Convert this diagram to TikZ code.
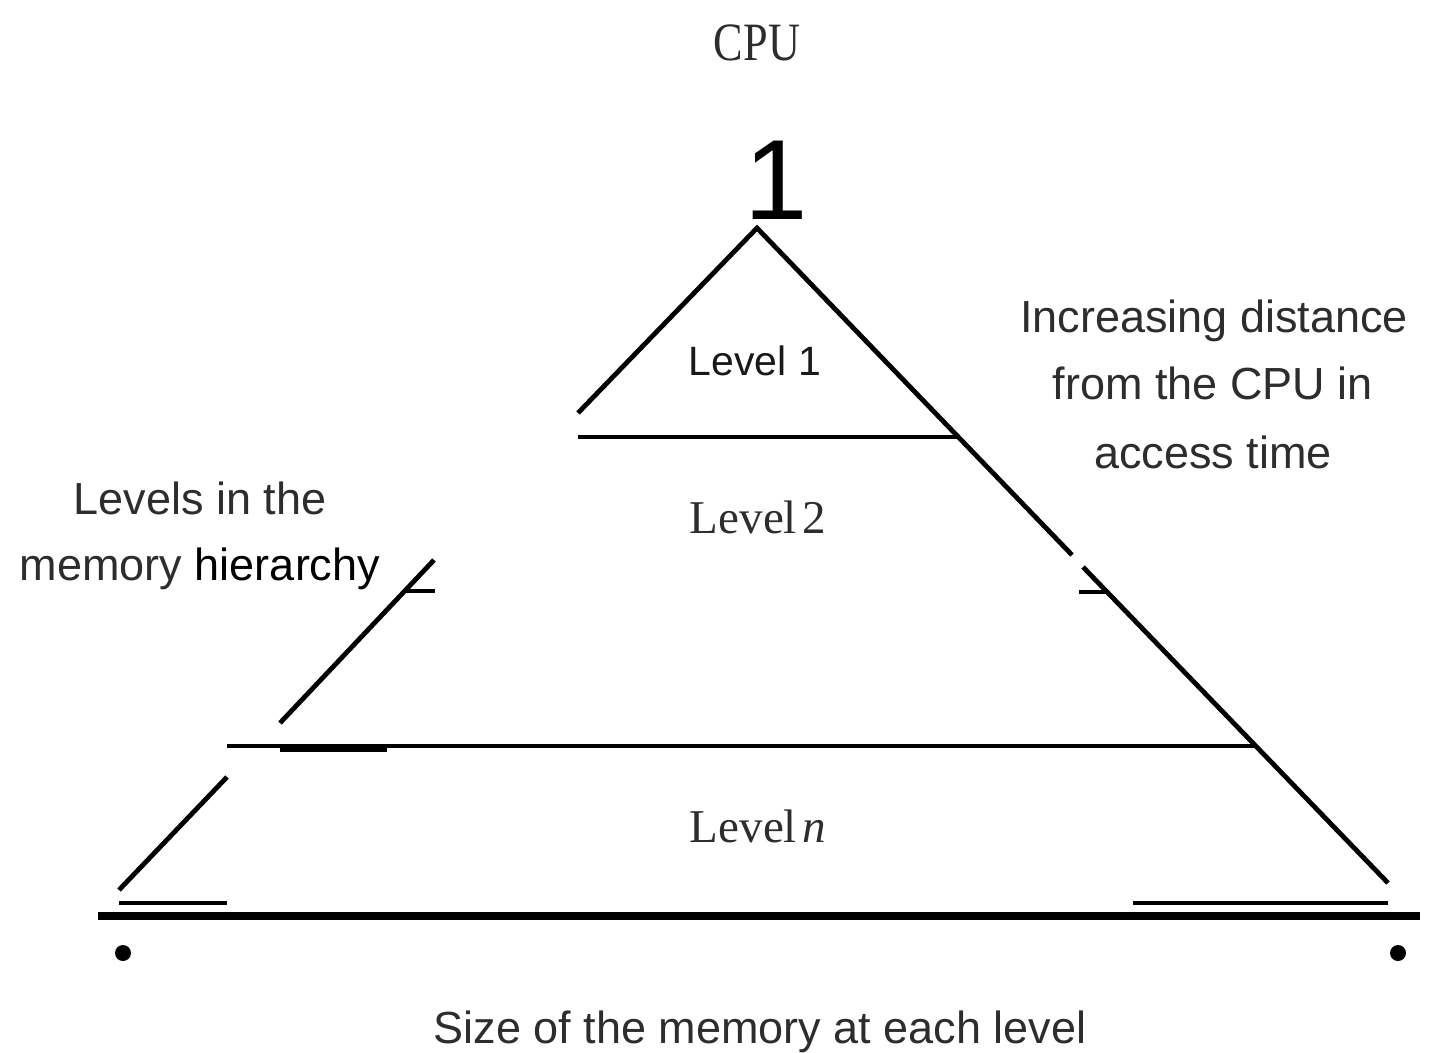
\documentclass[tikz,border=0pt]{standalone}
\usepackage{fontspec}
\setmainfont{Liberation Serif}
\setsansfont{Liberation Sans}
\definecolor{txt}{RGB}{45,45,45}
\begin{document}
\begin{tikzpicture}[x=0.5pt,y=-0.5pt,
  edge/.style={line width=2.4pt,black},
  thinedge/.style={line width=2.4pt,black},
  baseln/.style={line width=4pt,black},
  sanslbl/.style={font=\sffamily\fontsize{22.5}{27}\selectfont,text=txt,inner sep=0pt,anchor=base},
  seriflbl/.style={font=\rmfamily\fontsize{23.5}{28}\selectfont,text=txt,inner sep=0pt,anchor=base},
  dotmark/.style={circle,fill=black,inner sep=0pt,minimum size=8pt}]
\useasboundingbox (0,0) rectangle (1444,1053);
% key points
\coordinate (A) at (757,228);
\coordinate (L1end) at (578,413);
\coordinate (R1end) at (1072,555);
\coordinate (R2start) at (1083,567);
\coordinate (Rbot) at (1388,883);
\coordinate (H1l) at (578,437);
\coordinate (H1r) at (958,437);
\coordinate (Ls1) at (434,560);
\coordinate (Ls2) at (280,723);
\coordinate (Hs1l) at (405,591);
\coordinate (Hs1r) at (435,591);
\coordinate (Hs2l) at (1079,592);
\coordinate (Hs2r) at (1108,592);
\coordinate (H2l) at (227,746);
\coordinate (H2r) at (1257,746);
\coordinate (Hk1) at (280,748);
\coordinate (Hk2) at (387,748);
\coordinate (Ll1) at (227,777);
\coordinate (Ll2) at (119,890);
\coordinate (Bl1) at (119,903);
\coordinate (Bl2) at (227,903);
\coordinate (Br1) at (1133,903);
\coordinate (Br2) at (1388,903);
\coordinate (B1) at (98,916);
\coordinate (B2) at (1420,916);
% pyramid lines
\draw[edge,line join=miter] (L1end) -- (A) -- (R1end);
\draw[edge] (R2start) -- (Rbot);
\draw[edge] (H1l) -- (H1r);
\draw[edge] (Ls1) -- (Ls2);
\draw[edge] (Hs1l) -- (Hs1r);
\draw[edge] (Hs2l) -- (Hs2r);
\draw[edge] (H2l) -- (H2r);
\draw[line width=4pt] (Hk1) -- (Hk2);
\draw[edge] (Ll1) -- (Ll2);
\draw[thinedge] (Bl1) -- (Bl2);
\draw[thinedge] (Br1) -- (Br2);
\draw[baseln] (B1) -- (B2);
\node[dotmark] (d1) at (123,953) {};
\node[dotmark] (d2) at (1398,953) {};
% texts
\node[font=\rmfamily\fontsize{27}{32}\selectfont,text=txt,inner sep=0pt,anchor=base,xscale=0.82] (cpu) at (757,61) {CPU};
\node[font=\sffamily\fontsize{57}{60}\selectfont,inner sep=0pt,anchor=base] (one) at (776,220) {1};
\node[font=\sffamily\fontsize{20.5}{24}\selectfont,text=black!90,inner sep=0pt,anchor=base] (lv1) at (755,375) {Level 1};
\node[seriflbl] (lv2) at (758,533) {Level\hspace{0.12em}2};
\node[seriflbl] (lvn) at (758,842) {Level\hspace{0.12em}\textit{n}};
\node[sanslbl] (lft1) at (200,514) {Levels in the};
\node[sanslbl] (lft2) at (200,580) {memory \textcolor{black}{hierarchy}};
\node[sanslbl] (rt1) at (1214,333) {Increasing distance};
\node[sanslbl] (rt2) at (1213,400) {from the CPU in};
\node[sanslbl] (rt3) at (1213,468) {access time};
\node[sanslbl] (bot) at (760,1043) {Size of the memory at each level};
\end{tikzpicture}
\end{document}
